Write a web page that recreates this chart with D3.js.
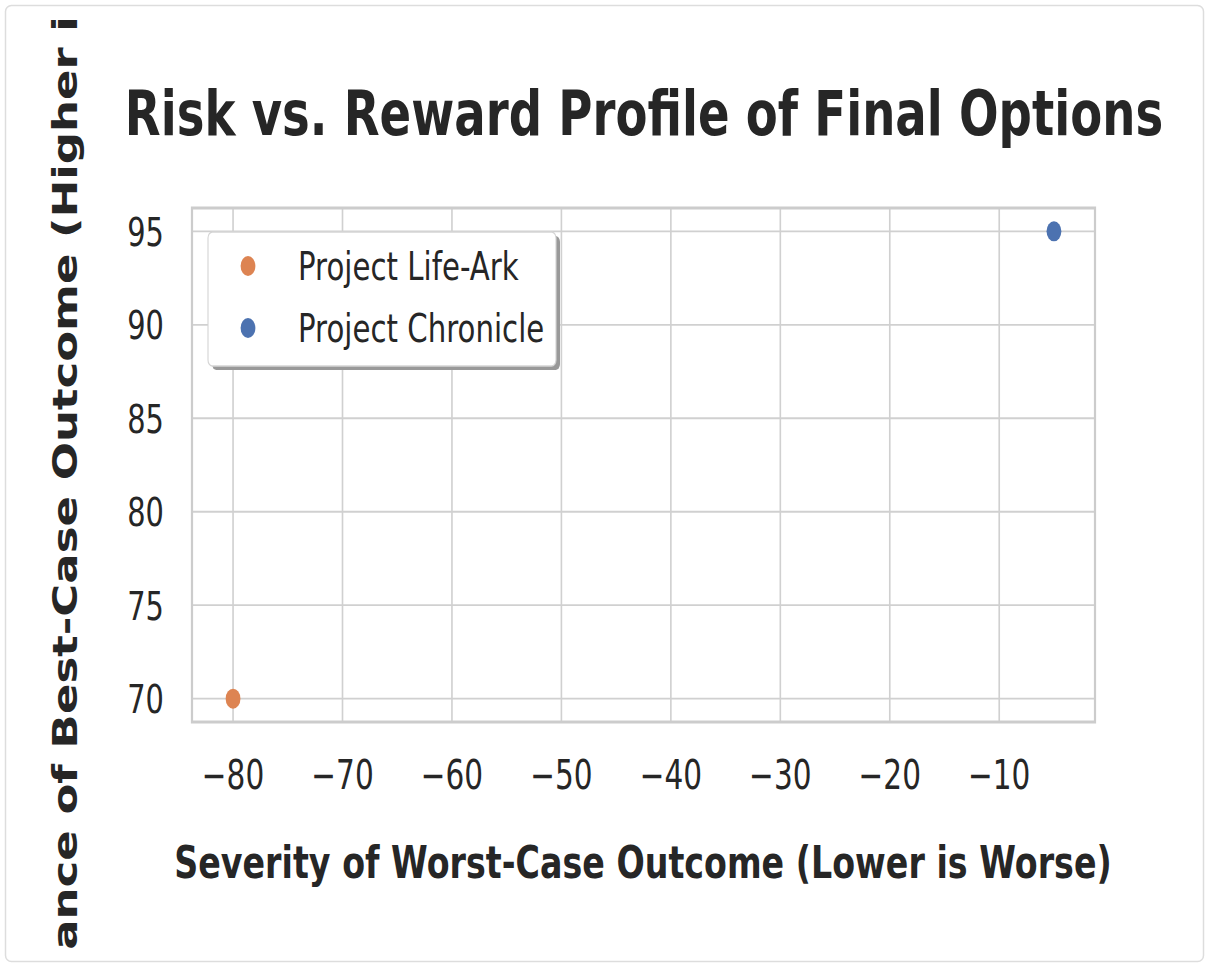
<!DOCTYPE html>
<html lang="en">
<head>
<meta charset="utf-8">
<title>Risk vs. Reward Profile</title>
<script src="https://cdn.jsdelivr.net/npm/d3@7"></script>
<style>
  body { margin: 0; background: #fff; }
  text { font-family: "DejaVu Sans", sans-serif; fill: #262626; }
</style>
</head>
<body>
<script>
// data
var names = ["Project Life-Ark", "Project Chronicle"];
var worstCase = [-80, -5];
var bestCase = [70, 95];
var colors = ["#dd8452", "#4c72b0"];
var xTicks = [-80, -70, -60, -50, -40, -30, -20, -10];
var yTicks = [70, 75, 80, 85, 90, 95];
var xDomain = [-83.75, -1.25];
var yDomain = [68.75, 96.25];

var W = 1209, H = 967;
var sx = 0.74; // the picture is squeezed sideways
var vx = function(px) { return px / sx; };

var svg = d3.select("body").append("svg")
    .attr("width", W)
    .attr("height", H);

svg.append("defs").append("clipPath").attr("id", "figclip")
  .append("rect").attr("x", 0).attr("y", 14).attr("width", 2000).attr("height", 938);

// outer frame
svg.append("rect")
    .attr("x", 5.5).attr("y", 5.5)
    .attr("width", W - 11).attr("height", H - 11)
    .attr("rx", 6)
    .attr("fill", "#fff")
    .attr("stroke", "#dddddd")
    .attr("stroke-width", 1.5);

var g = svg.append("g").attr("transform", "scale(" + sx + ",1)");

var x = d3.scaleLinear().domain(xDomain).range([vx(192), vx(1095)]);
var y = d3.scaleLinear().domain(yDomain).range([722, 208]);

// grid
g.selectAll(".gx").data(xTicks).enter().append("line")
    .attr("x1", d => x(d)).attr("x2", d => x(d))
    .attr("y1", y.range()[1]).attr("y2", y.range()[0])
    .attr("stroke", "#d0d0d0").attr("stroke-width", 2.2);
g.selectAll(".gy").data(yTicks).enter().append("line")
    .attr("x1", x.range()[0]).attr("x2", x.range()[1])
    .attr("y1", d => y(d)).attr("y2", d => y(d))
    .attr("stroke", "#d0d0d0").attr("stroke-width", 1.8);

// spines
g.append("rect")
    .attr("x", x.range()[0]).attr("y", y.range()[1])
    .attr("width", x.range()[1] - x.range()[0])
    .attr("height", y.range()[0] - y.range()[1])
    .attr("fill", "none")
    .attr("stroke", "#cccccc").attr("stroke-width", 3);

// tick labels
var fmt = d3.format("d");
g.selectAll(".tx").data(xTicks).enter().append("text")
    .attr("x", d => x(d)).attr("y", 789)
    .attr("text-anchor", "middle")
    .attr("font-size", 40)
    .text(d => fmt(d));
g.selectAll(".ty").data(yTicks).enter().append("text")
    .attr("x", vx(164)).attr("y", d => y(d) + 14.5)
    .attr("text-anchor", "end")
    .attr("font-size", 39)
    .text(d => fmt(d));

// points
g.selectAll(".pt").data(names).enter().append("circle")
    .attr("cx", (d, i) => x(worstCase[i]))
    .attr("cy", (d, i) => y(bestCase[i]))
    .attr("r", 10)
    .attr("fill", (d, i) => colors[i]);

// titles
g.append("text")
    .attr("x", vx(644)).attr("y", 135)
    .attr("text-anchor", "middle")
    .attr("font-size", 63).attr("font-weight", "bold")
    .text("Risk vs. Reward Profile of Final Options");
g.append("text")
    .attr("x", vx(643)).attr("y", 878)
    .attr("text-anchor", "middle")
    .attr("font-size", 45).attr("font-weight", "bold")
    .text("Severity of Worst-Case Outcome (Lower is Worse)");
g.append("g").attr("clip-path", "url(#figclip)")
  .append("text")
    .attr("transform", "translate(" + vx(77) + "," + 465 + ") rotate(-90)")
    .attr("text-anchor", "middle")
    .attr("font-size", 45).attr("font-weight", "bold")
    .text("Significance of Best-Case Outcome (Higher is Better)");

// legend
var lg = g.append("g");
lg.append("rect")
    .attr("x", vx(212)).attr("y", 236)
    .attr("width", vx(556) - vx(208)).attr("height", 134)
    .attr("rx", 6)
    .attr("fill", "#999");
lg.append("rect")
    .attr("x", vx(208)).attr("y", 232)
    .attr("width", vx(556) - vx(208)).attr("height", 134)
    .attr("rx", 6)
    .attr("fill", "#fff")
    .attr("stroke", "#d5d5d5").attr("stroke-width", 1.5);
var rows = lg.selectAll(".lr").data(names).enter().append("g")
    .attr("transform", (d, i) => "translate(0," + (266 + i * 62) + ")");
rows.append("circle")
    .attr("cx", vx(248)).attr("cy", 0).attr("r", 10)
    .attr("fill", (d, i) => colors[i]);
rows.append("text")
    .attr("x", vx(298)).attr("y", 14)
    .attr("font-size", 39.5)
    .text(d => d);
</script>
</body>
</html>
